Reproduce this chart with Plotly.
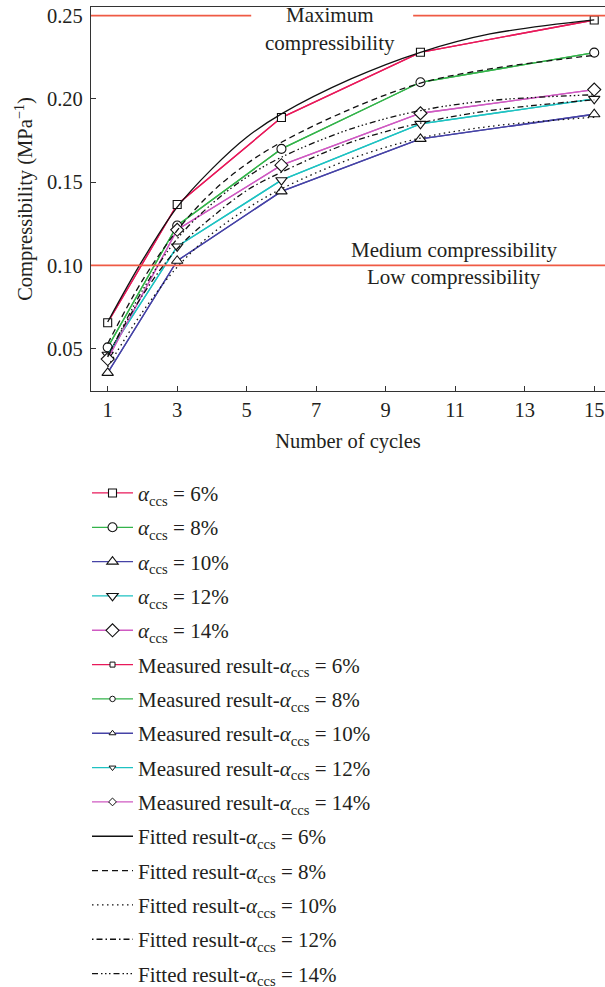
import plotly.graph_objects as go

# ---------------- data ----------------
cycles = [1, 3, 6, 10, 15]
meas_6 = [0.0656, 0.1366, 0.1888, 0.2280, 0.2474]
meas_8 = [0.0508, 0.1240, 0.1700, 0.2100, 0.2278]
meas_10 = [0.0355, 0.1028, 0.1445, 0.1760, 0.1908]
meas_12 = [0.0464, 0.1114, 0.1512, 0.1850, 0.2000]
meas_14 = [0.0438, 0.1214, 0.1602, 0.1914, 0.2056]

fit_x = [1, 2, 3, 4, 5, 6, 8, 10, 12, 15]
fit_6 = [0.066, 0.103, 0.135, 0.158, 0.177, 0.191, 0.212, 0.228, 0.239, 0.2475]
fit_8 = [0.053, 0.091, 0.121, 0.144, 0.161, 0.174, 0.194, 0.2095, 0.218, 0.2262]
fit_10 = [0.039, 0.072, 0.099, 0.119, 0.134, 0.146, 0.164, 0.1765, 0.1835, 0.189]
fit_12 = [0.046, 0.082, 0.110, 0.129, 0.145, 0.156, 0.174, 0.1855, 0.193, 0.1995]
fit_14 = [0.045, 0.085, 0.116, 0.137, 0.153, 0.165, 0.182, 0.193, 0.199, 0.2025]

contents = ["6%", "8%", "10%", "12%", "14%"]
max_level = 0.25
medium_level = 0.10
max_gap = [5.13, 9.79]  # the 0.25 line is broken around the label

# ---------------- style ----------------
FONT = "Liberation Serif"
TXT = "#231f20"
RED = "#ef5a44"
colors = ["#e8195a", "#33b34a", "#4643a6", "#1ec2c2", "#cf5ac2"]
symbols = ["square", "circle", "triangle-up", "triangle-down", "diamond"]
big_sizes = [8, 9, 10, 10, 10]
small_sizes = [5, 5.5, 6, 6, 6]
dashes = ["solid", "6px,4px", "1.5px,3.5px", "1.5px,3px,6px,3px",
          "6px,3px,1.5px,2.5px,1.5px,2.5px,1.5px,3px"]

W, H = 605, 987
ML, MR, MT, MB = 91, 0, 7, 596
PW, PH = W - ML - MR, H - MT - MB


def px_x(p):
    return (p - ML) / PW


def px_y(p):
    return (H - MB - p) / PH


meas = [meas_6, meas_8, meas_10, meas_12, meas_14]
fits = [fit_6, fit_8, fit_10, fit_12, fit_14]

fig = go.Figure()

lab = lambda c: "<i>α</i><sub>ccs</sub> = " + c

row0, row_step = 493.3, 34.33
legend_origin_px = 87

traces = []
# measured result traces (small markers), drawn first
for i in range(5):
    traces.append((5 + i, go.Scatter(
        x=cycles, y=meas[i], mode="lines+markers",
        name="Measured result-" + lab(contents[i]),
        line=dict(color=colors[i], width=1.3),
        marker=dict(symbol=symbols[i], size=small_sizes[i], color="white",
                    line=dict(color="#111", width=1)),
    )))
# main series (big markers) drawn on top
for i in range(5):
    traces.append((i, go.Scatter(
        x=cycles, y=meas[i], mode="lines+markers",
        name=lab(contents[i]),
        line=dict(color=colors[i], width=1.3),
        marker=dict(symbol=symbols[i], size=big_sizes[i], color="white",
                    line=dict(color="#111", width=1.1)),
    )))
# fitted curves
for i in range(5):
    traces.append((10 + i, go.Scatter(
        x=fit_x, y=fits[i], mode="lines",
        name="Fitted result-" + lab(contents[i]),
        line=dict(color="#111", width=1.3, dash=dashes[i], shape="spline", smoothing=1.0),
    )))

legends = {}
for rank, tr in traces:
    key = "legend" if rank == 0 else f"legend{rank + 1}"
    tr.update(legend=key, showlegend=True)
    fig.add_trace(tr)
    legends[key] = dict(
        x=px_x(legend_origin_px), y=px_y(row0 + rank * row_step),
        xanchor="left", yanchor="middle", bgcolor="rgba(0,0,0,0)",
        borderwidth=0, itemwidth=41, visible=True,
        font=dict(family=FONT, size=21, color=TXT),
    )

# reference lines
fig.add_shape(type="line", xref="paper", yref="y", x0=0, x1=1,
              y0=medium_level, y1=medium_level, line=dict(color=RED, width=1.8))
fig.add_shape(type="line", xref="x", yref="y", x0=0.52, x1=max_gap[0],
              y0=max_level, y1=max_level, line=dict(color=RED, width=1.8))
fig.add_shape(type="line", xref="x", yref="y", x0=max_gap[1], x1=15.31,
              y0=max_level, y1=max_level, line=dict(color=RED, width=1.8))

ann_font = dict(family=FONT, size=21, color=TXT)
fig.add_annotation(x=7.40, y=0.2504, text="Maximum", showarrow=False, font=ann_font)
fig.add_annotation(x=7.40, y=0.2338, text="compressibility", showarrow=False, font=ann_font)
fig.add_annotation(x=10.96, y=0.1094, text="Medium compressibility", showarrow=False, font=ann_font)
fig.add_annotation(x=10.96, y=0.0930, text="Low compressibility", showarrow=False, font=ann_font)

axis_common = dict(
    showline=True, linecolor="#333", linewidth=1.3, mirror=True,
    ticks="inside", ticklen=5, tickwidth=1.2, tickcolor="#333",
    showgrid=False, zeroline=False,
    tickfont=dict(family=FONT, size=20.5, color=TXT),
)

fig.update_layout(
    width=W, height=H,
    showlegend=True,
    margin=dict(l=ML, r=MR, t=MT, b=MB, autoexpand=False),
    paper_bgcolor="white", plot_bgcolor="white",
    font=dict(family=FONT, size=20, color=TXT),
    xaxis=dict(range=[0.52, 15.31], tickvals=[1, 3, 5, 7, 9, 11, 13, 15],
               title=dict(text="Number of cycles", font=dict(family=FONT, size=20.5, color=TXT), standoff=13),
               ticklabelstandoff=0,
               **axis_common),
    yaxis=dict(range=[0.0246, 0.2552], tickvals=[0.05, 0.10, 0.15, 0.20, 0.25],
               ticktext=["0.05", "0.10", "0.15", "0.20", "0.25"],
               title=dict(text="Compressibility (MPa<sup>−1</sup>)", font=dict(family=FONT, size=20.5, color=TXT), standoff=8),
               ticklabelstandoff=3,
               **axis_common),
    **legends,
)

fig.write_html("out.html")
